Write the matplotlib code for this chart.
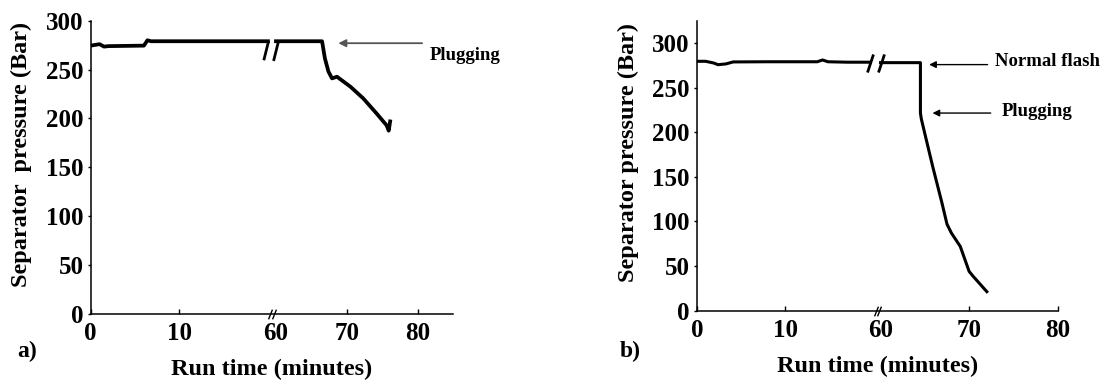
import numpy as np
import matplotlib
matplotlib.use('Agg')
import matplotlib.pyplot as plt

plt.rcParams['font.family'] = ['Liberation Serif', 'DejaVu Serif']
plt.rcParams['font.weight'] = 'bold'

# panel a) readings
time_a_left = [0, 1.0, 1.5, 2.0, 6.0, 6.4, 6.8, 12.0, 20.0]
pres_a_left = [274.5, 276, 273.5, 274, 274.5, 280, 279, 279, 279]
time_a_right = [60, 66.5, 66.9, 67.4, 67.9, 68.6, 70.5, 72.3, 74.2, 75.6, 75.9, 76.1]
pres_a_right = [279, 279, 261.5, 248, 241, 242.7, 232.5, 220.6, 205, 193, 187.5, 197]

# panel b) readings
time_b_left = [0, 1.0, 1.9, 2.4, 3.3, 4.1, 8, 13.6, 14.2, 14.8, 17, 19.6]
pres_b_left = [279.5, 279.5, 277.6, 275.7, 276.6, 278.8, 279, 279, 281, 279, 278.5, 278.5]
time_b_right = [60, 64.5, 64.5, 64.6, 65.2, 65.9, 66.9, 67.5, 68.0, 68.6, 69.0, 70.0, 70.5, 72.0]
pres_b_right = [278, 278, 221.5, 215, 190, 161, 122, 97, 87, 78, 72, 44, 38, 21.3]

xticks = [0, 10, 60, 70, 80]
yticks = [0, 50, 100, 150, 200, 250, 300]


def broken_scale(gap, k):
    # 0..20 linear, 20..60 squeezed into `gap`, 60.. with slope k
    t_pts = [-100, 20, 60, 300]
    u_pts = [-100, 20, 20 + gap, 20 + gap + 240 * k]

    def fwd(t):
        return np.interp(t, t_pts, u_pts)

    def inv(u):
        return np.interp(u, u_pts, t_pts)
    return fwd, inv


fig = plt.figure(figsize=(11.02, 3.8), dpi=100)
ax_a = fig.add_axes([0.0823, 0.1737, 0.3290, 0.7718])
ax_b = fig.add_axes([0.6323, 0.1824, 0.3275, 0.7631])


def style(ax, xmax, ymax, gap, k):
    ax.set_xscale('function', functions=broken_scale(gap, k))
    ax.set_xlim(0, xmax)
    ax.set_ylim(0, ymax)
    for s in ['top', 'right']:
        ax.spines[s].set_visible(False)
    for s in ['left', 'bottom']:
        ax.spines[s].set_linewidth(1.1)
    ax.set_xticks(xticks)
    ax.set_xticklabels([str(x) for x in xticks])
    ax.set_yticks(yticks)
    ax.tick_params(axis='x', direction='in', length=3.6, width=1.0, pad=6, labelsize=18)
    ax.tick_params(axis='y', direction='out', length=2.5, width=1.0, pad=2.5, labelsize=18)
    ax.xaxis.get_major_ticks()[2].tick1line.set_visible(False)
    ax.set_xlabel('Run time (minutes)', fontsize=17.5, fontweight='bold', labelpad=10)
    # // on the time axis
    ax.plot([30, 50], [0, 0], linestyle='none', marker=[(-0.4, -1), (0.4, 1)],
            markersize=7, mec='k', mew=1.0, clip_on=False)


style(ax_a, 85, 300, 0.9, 0.80)
style(ax_b, 80, 325, 0.75, 1.0)

ax_a.plot(time_a_left, pres_a_left, color='k', lw=2.7, solid_joinstyle='round')
ax_a.plot(time_a_right, pres_a_right, color='k', lw=2.7, solid_joinstyle='round')
ax_a.plot([20], [279], linestyle='none', marker=[(0, 0), (-0.25, -1)],
          markersize=27, mec='k', mew=2.0)
ax_a.plot([60], [279], linestyle='none', marker=[(0.1, 0), (-0.15, -1)],
          markersize=28, mec='k', mew=2.0)

ax_b.plot(time_b_left, pres_b_left, color='k', lw=2.2, solid_joinstyle='round')
ax_b.plot(time_b_right, pres_b_right, color='k', lw=2.2, solid_joinstyle='round')
ax_b.plot([19.6, 60.0], [277.5, 277.5], linestyle='none', marker=[(-0.33, -1), (0.33, 1)],
          markersize=13, mec='k', mew=2.0)

ax_a.set_ylabel('Separator  pressure (Bar)', fontsize=17.5, fontweight='bold')
ax_a.yaxis.set_label_coords(-0.163, 0.5455)
ax_b.set_ylabel('Separator pressure (Bar)', fontsize=17.5, fontweight='bold')
ax_b.yaxis.set_label_coords(-0.161, 0.5445)

ax_a.annotate('', xy=(68.4, 277), xytext=(81.0, 277), annotation_clip=False,
              arrowprops=dict(arrowstyle='-|>', color='#555555', lw=1.3, mutation_scale=11))
ax_a.text(81.7, 264, 'Plugging', fontsize=13.5, fontweight='bold', va='center', ha='left')

ax_b.annotate('', xy=(65.17, 275.8), xytext=(72.4, 275.8), annotation_clip=False,
              arrowprops=dict(arrowstyle='-|>', color='k', lw=1.0, mutation_scale=10))
ax_b.text(72.95, 279.5, 'Normal flash', fontsize=13.5, fontweight='bold', va='center', ha='left')
ax_b.annotate('', xy=(65.55, 221.5), xytext=(72.75, 221.5), annotation_clip=False,
              arrowprops=dict(arrowstyle='-|>', color='k', lw=1.0, mutation_scale=10))
ax_b.text(73.7, 223.3, 'Plugging', fontsize=13.5, fontweight='bold', va='center', ha='left')

fig.text(17.6 / 1102, 1 - 351.7 / 380, 'a)', fontsize=17, fontweight='bold', va='center', ha='left')
fig.text(619.5 / 1102, 1 - 351.7 / 380, 'b)', fontsize=17, fontweight='bold', va='center', ha='left')

fig.savefig('out.png', dpi=100)
